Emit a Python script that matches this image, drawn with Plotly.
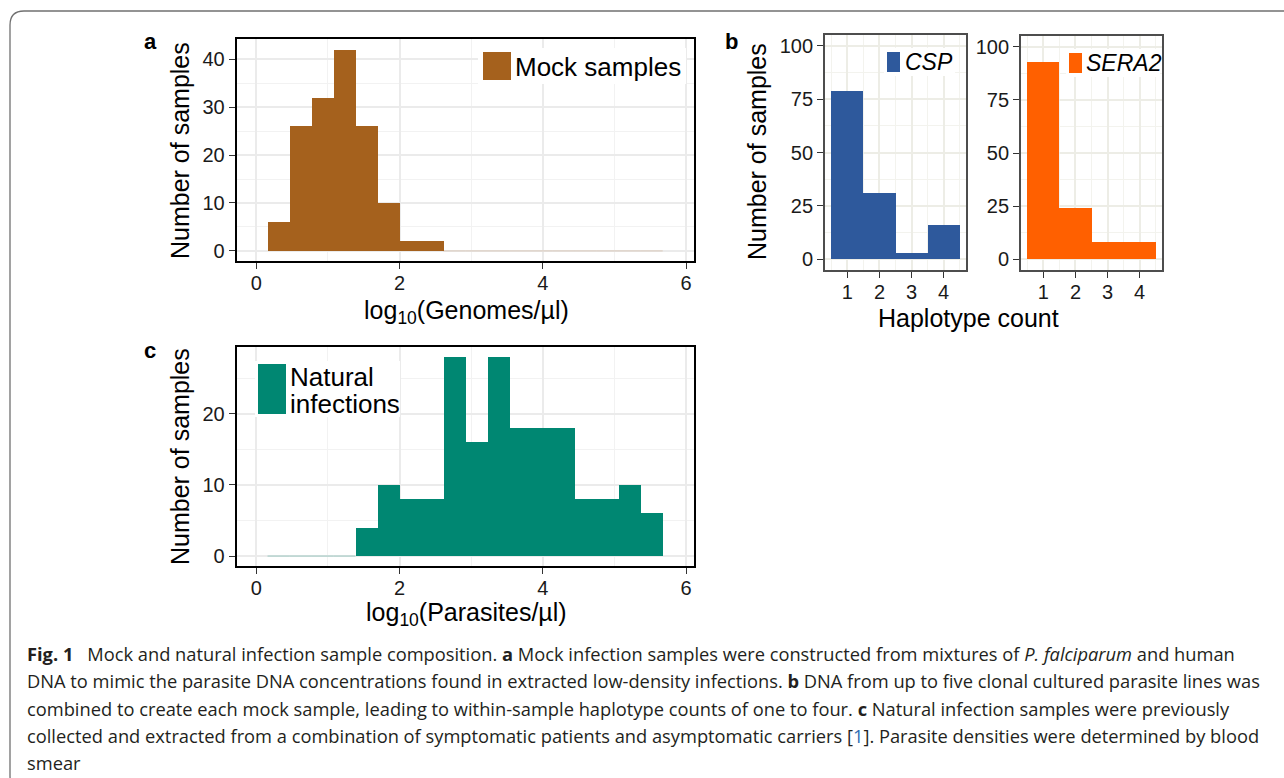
import plotly.graph_objects as go

W, H = 1284, 778

# ---------------- data ----------------
bin_left = [0.156, 0.463, 0.769, 1.076, 1.382, 1.689, 1.995, 2.302, 2.608,
            2.915, 3.221, 3.528, 3.834, 4.141, 4.447, 4.754, 5.060, 5.367]
bin_width = 0.3065
mock_counts = [6, 26, 32, 42, 26, 10, 2, 2, 0, 0, 0, 0, 0, 0, 0, 0, 0, 0]
natural_counts = [0, 0, 0, 0, 4, 10, 8, 8, 28, 16, 28, 18, 18, 18, 8, 8, 10, 6]

haplotype_count = [1, 2, 3, 4]
csp_samples = [79, 31, 3, 16]
sera2_samples = [93, 24, 8, 8]

x_ticks_log = [0, 2, 4, 6]
mock_y_ticks = [0, 10, 20, 30, 40]
natural_y_ticks = [0, 10, 20]
hap_y_ticks = [0, 25, 50, 75, 100]

# colours
C_MOCK = "#A5611D"
C_NAT = "#008772"
C_CSP = "#2E599C"
C_SERA = "#FF6000"

FONT = "Liberation Sans, Arial, Helvetica, sans-serif"
CAP_FONT = "Open Sans, Noto Sans, sans-serif"


def px(x):
    return x / W


def py(y):
    return 1 - y / H


bin_centers = [b + bin_width / 2 for b in bin_left]


def zero_segments(counts):
    xs = []
    for b, c in zip(bin_left, counts):
        if c == 0:
            xs += [b, b + bin_width, None]
    return xs


fig = go.Figure()

# panel a
fig.add_trace(go.Bar(x=bin_centers, y=mock_counts, width=bin_width, marker=dict(color=C_MOCK, line=dict(width=0)),
                     xaxis="x", yaxis="y", showlegend=False))
zx = zero_segments(mock_counts)
fig.add_trace(go.Scatter(x=zx, y=[0 if v is not None else None for v in zx], mode="lines",
                         line=dict(color="rgba(165,97,29,0.18)", width=1.2), xaxis="x", yaxis="y",
                         showlegend=False, hoverinfo="skip"))
# panel b
fig.add_trace(go.Bar(x=haplotype_count, y=csp_samples, width=1, marker=dict(color=C_CSP, line=dict(width=0)),
                     xaxis="x2", yaxis="y2", showlegend=False))
fig.add_trace(go.Bar(x=haplotype_count, y=sera2_samples, width=1, marker=dict(color=C_SERA, line=dict(width=0)),
                     xaxis="x3", yaxis="y3", showlegend=False))
# panel c
fig.add_trace(go.Bar(x=bin_centers, y=natural_counts, width=bin_width, marker=dict(color=C_NAT, line=dict(width=0)),
                     xaxis="x4", yaxis="y4", showlegend=False))
zx = zero_segments(natural_counts)
fig.add_trace(go.Scatter(x=zx, y=[0 if v is not None else None for v in zx], mode="lines",
                         line=dict(color="rgba(0,135,114,0.28)", width=1.2), xaxis="x4", yaxis="y4",
                         showlegend=False, hoverinfo="skip"))


def axis_common(grid, minor_grid, linecolor, linewidth, standoff=0):
    return dict(showline=True, mirror=True, linecolor=linecolor, linewidth=linewidth,
                ticks="outside", ticklen=6, tickwidth=1.3, tickcolor="#333333",
                ticklabelstandoff=standoff,
                showgrid=True, gridcolor=grid, gridwidth=1.5, zeroline=False,
                tickfont=dict(family=FONT, size=20, color="#1a1a1a"),
                minor=dict(showgrid=True, gridcolor=minor_grid, gridwidth=1.2, ticks=""),
                fixedrange=True)


GA, GMA = "#EBEBEB", "#F2F2F2"
GB, GMB = "#EDEDE6", "#F3F3EE"

layout_axes = dict(
    xaxis=dict(domain=[px(236.5), px(694)], range=[-0.277, 6.11], anchor="y",
               tickvals=x_ticks_log, **axis_common(GA, GMA, "black", 1.6, -3)),
    yaxis=dict(domain=[py(261), py(39)], range=[-2.1, 44.2], anchor="x",
               tickvals=mock_y_ticks, **axis_common(GA, GMA, "black", 1.6)),
    xaxis2=dict(domain=[px(825), px(966)], range=[0.3, 4.7], anchor="y2",
                tickvals=haplotype_count, **axis_common(GB, GMB, "#4d4d4d", 1.8, -3)),
    yaxis2=dict(domain=[py(270), py(35)], range=[-5, 105], anchor="x2",
                tickvals=hap_y_ticks, **axis_common(GB, GMB, "#4d4d4d", 1.8)),
    xaxis3=dict(domain=[px(1021), px(1162)], range=[0.3, 4.7], anchor="y3",
                tickvals=haplotype_count, **axis_common(GB, GMB, "#4d4d4d", 1.8, -3)),
    yaxis3=dict(domain=[py(270), py(36)], range=[-5, 105], anchor="x3",
                tickvals=hap_y_ticks, **axis_common(GB, GMB, "#4d4d4d", 1.8)),
    xaxis4=dict(domain=[px(236.5), px(694)], range=[-0.277, 6.11], anchor="y4",
                tickvals=x_ticks_log, **axis_common(GA, GMA, "black", 1.6, -3)),
    yaxis4=dict(domain=[py(566), py(347)], range=[-1.4, 29.4], anchor="x4",
                tickvals=natural_y_ticks, **axis_common(GA, GMA, "black", 1.6)),
)
# minor grid spacing
layout_axes["xaxis"]["minor"]["dtick"] = 1
layout_axes["xaxis4"]["minor"]["dtick"] = 1
layout_axes["yaxis"]["minor"]["dtick"] = 5
layout_axes["yaxis4"]["minor"]["dtick"] = 5
for k in ["xaxis2", "xaxis3"]:
    layout_axes[k]["minor"]["tick0"] = 0.5
    layout_axes[k]["minor"]["dtick"] = 0.5
for k in ["yaxis2", "yaxis3"]:
    layout_axes[k]["minor"]["dtick"] = 12.5

fig.update_layout(**layout_axes)

shapes = []
annotations = []


def txt(x, y, text, size, bold=False, xanchor="center", yanchor="middle", angle=0, family=FONT, color="black"):
    if bold:
        text = "<b>" + text + "</b>"
    annotations.append(dict(x=px(x), y=py(y), xref="paper", yref="paper", text=text, showarrow=False,
                            xanchor=xanchor, yanchor=yanchor, textangle=angle,
                            font=dict(family=family, size=size, color=color)))


def rect(x0, y0, x1, y1, fill, line=None):
    shapes.append(dict(type="rect", xref="paper", yref="paper", x0=px(x0), x1=px(x1), y0=py(y1), y1=py(y0),
                       fillcolor=fill, line=dict(width=0) if line is None else line, layer="above"))


# outer rounded frame
r = 14
L, T, R, B = 10, 11, 1300, 790
path = (f"M {px(L)},{py(T + r)} Q {px(L)},{py(T)} {px(L + r)},{py(T)} L {px(R)},{py(T)} "
        f"L {px(R)},{py(B)} L {px(L + r)},{py(B)} Q {px(L)},{py(B)} {px(L)},{py(B - r)} Z")
shapes.append(dict(type="path", xref="paper", yref="paper", path=path,
                   line=dict(color="#707070", width=1.3), fillcolor="rgba(0,0,0,0)", layer="below"))

# legends
rect(478, 48, 686, 84, "white")
rect(483, 52, 511, 80, C_MOCK)
txt(513, 67, "Mock samples", 26, xanchor="left")

rect(884, 48, 955, 76, "white")
rect(887, 52, 900, 72, C_CSP)
txt(903, 62, "<i>CSP</i>", 23, xanchor="left")

rect(1066, 49, 1160, 77, "white")
rect(1069, 53, 1082, 73, C_SERA)
txt(1084, 63, "<i>SERA2</i>", 23, xanchor="left")

rect(255, 361, 400, 417, "white")
rect(258, 364, 286, 414, C_NAT)
txt(288, 377, "Natural", 26, xanchor="left")
txt(288, 404, "infections", 26, xanchor="left")

# panel labels
txt(150, 42, "a", 22, bold=True)
txt(731, 42, "b", 22, bold=True)
txt(150, 350, "c", 22, bold=True)

# axis titles
txt(180, 150, "Number of samples", 25, angle=-90)
txt(757, 152, "Number of samples", 25, angle=-90)
txt(180, 456, "Number of samples", 25, angle=-90)
txt(466, 312, "log<sub>10</sub>(Genomes/µl)", 25)
txt(968, 318, "Haplotype count", 25)
txt(466, 614, "log<sub>10</sub>(Parasites/µl)", 25)

# caption
cap_lines = [
    "<b>Fig. 1</b>\u2002 Mock and natural infection sample composition. <b>a</b> Mock infection samples were constructed from mixtures of <i>P. falciparum</i> and human",
    "DNA to mimic the parasite DNA concentrations found in extracted low-density infections. <b>b</b> DNA from up to five clonal cultured parasite lines was",
    "combined to create each mock sample, leading to within-sample haplotype counts of one to four. <b>c</b> Natural infection samples were previously",
    "collected and extracted from a combination of symptomatic patients and asymptomatic carriers [<span style='color:#2f6db5'>1</span>]. Parasite densities were determined by blood",
    "smear",
]
cap_y = [653, 680, 708, 735, 762]
for line, yy in zip(cap_lines, cap_y):
    txt(25, yy, line, 18.3, xanchor="left", family=CAP_FONT, color="#231f20")

fig.update_layout(width=W, height=H, margin=dict(l=0, r=0, t=0, b=0),
                  paper_bgcolor="white", plot_bgcolor="white", showlegend=False,
                  bargap=0, shapes=shapes, annotations=annotations)

fig.write_html("out.html")
